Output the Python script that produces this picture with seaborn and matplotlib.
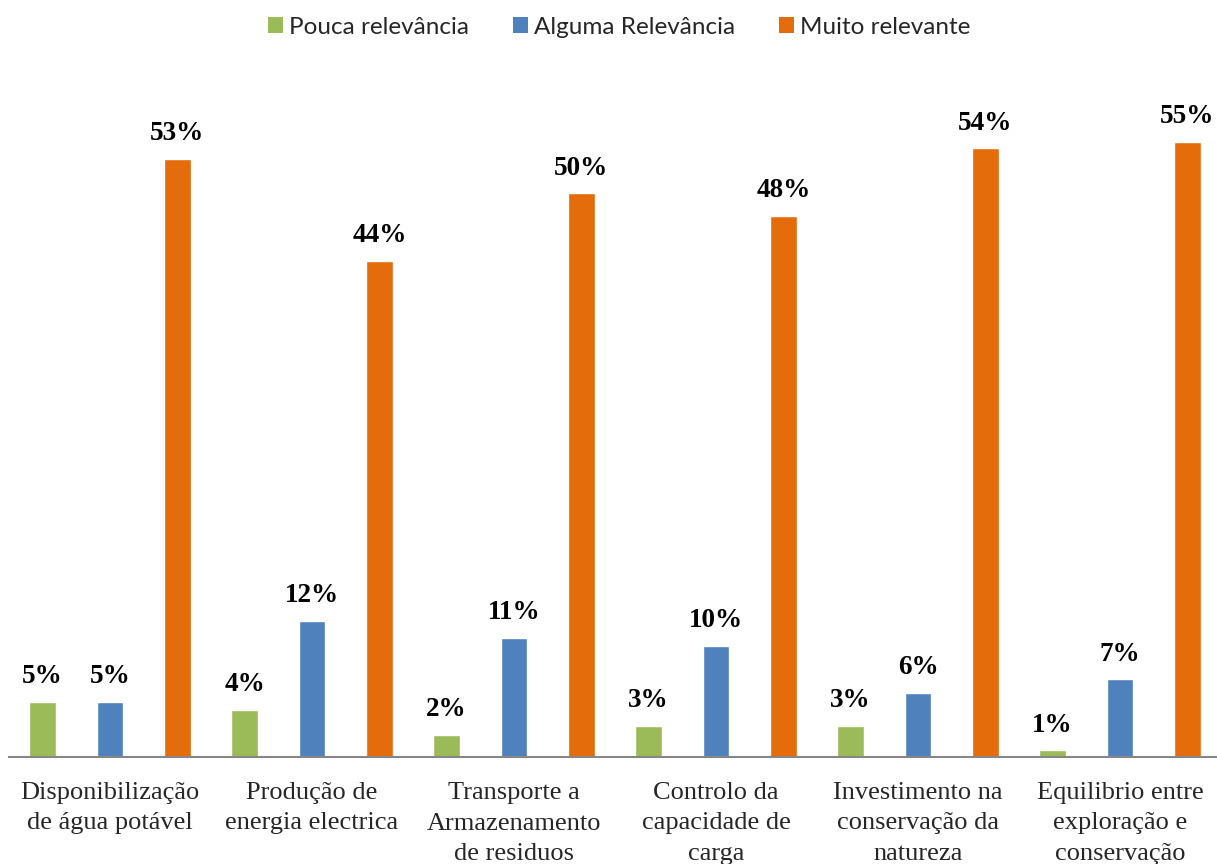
import matplotlib
matplotlib.use("Agg")
import matplotlib.pyplot as plt
import seaborn as sns
import pandas as pd
from matplotlib.patches import Patch

categories = [
    "Disponibilização\nde água potável",
    "Produção de\nenergia electrica",
    "Transporte a\nArmazenamento\nde residuos",
    "Controlo da\ncapacidade de\ncarga",
    "Investimento na\nconservação da\nnatureza",
    "Equilibrio entre\nexploração e\nconservação",
]
series = ["Pouca relevância", "Alguma Relevância", "Muito relevante"]
pouca = [4.9, 4.2, 2.0, 2.8, 2.8, 0.6]
alguma = [4.9, 12.1, 10.6, 9.9, 5.7, 6.9]
muito = [53.2, 44.1, 50.1, 48.1, 54.1, 54.7]
colors = ["#9BBB59", "#4F81BD", "#E46C0A"]

rows = []
for s, vals in zip(series, [pouca, alguma, muito]):
    for c, v in zip(categories, vals):
        rows.append({"cat": c, "serie": s, "val": v})
df = pd.DataFrame(rows)

sns.set_theme(style="white")
plt.rcParams["font.family"] = ["Liberation Serif", "DejaVu Serif"]

W, H = 1217, 864
fig = plt.figure(figsize=(W / 100, H / 100), dpi=100)
ax_left = 9 / W
ax_bottom = 1 - 757 / H
ax_w = 1212 / W
ymax = 60.0
ax_h = (ymax * 11.25) / H
ax = fig.add_axes([ax_left, ax_bottom, ax_w, ax_h])

sns.barplot(data=df, x="cat", y="val", hue="serie", order=categories,
            hue_order=series, palette=colors, width=1.0, gap=0.6,
            saturation=1, ax=ax, legend=False, errorbar=None)

for cont, vals in zip(ax.containers, [pouca, alguma, muito]):
    ax.bar_label(cont, labels=[f"{v:.0f}%" for v in vals], padding=9,
                 fontsize=19.5, fontweight="bold", color="black",
                 family=["Liberation Serif", "DejaVu Serif"])

ax.set_ylim(0, ymax)
ax.set_xlim(-0.5, 5.5)
ax.set_xlabel("")
ax.set_ylabel("")
ax.set_yticks([])
for sp in ["top", "right", "left"]:
    ax.spines[sp].set_visible(False)
ax.spines["bottom"].set_color("#868686")
ax.spines["bottom"].set_linewidth(1.5)
ax.tick_params(axis="x", length=0, pad=18, labelsize=19)
for t in ax.get_xticklabels():
    t.set_linespacing(1.5)
    t.set_verticalalignment("top")

handles = [Patch(facecolor=c, edgecolor="none") for c in colors]
leg = fig.legend(handles, series, loc="center", bbox_to_anchor=(0.509, 1 - 27 / H),
                 ncol=3, frameon=False, handlelength=0.62, handleheight=0.62,
                 handletextpad=0.25, columnspacing=1.8,
                 prop={"family": ["Lato", "DejaVu Sans"], "size": 17.5})

fig.savefig("out.png", dpi=100)
